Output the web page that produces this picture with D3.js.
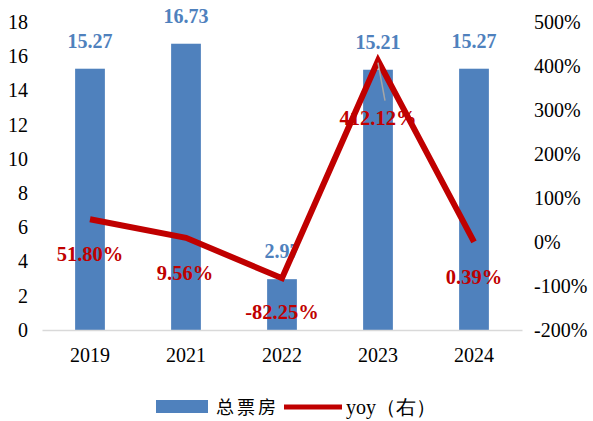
<!DOCTYPE html>
<html><head><meta charset="utf-8">
<script src="https://cdn.jsdelivr.net/npm/d3@7"></script>
<style>body{margin:0;background:#fff}svg{display:block}</style>
</head><body><svg id="c" width="593" height="421"></svg>
<script>
const years = ["2019","2021","2022","2023","2024"];
const boxOffice = [15.27, 16.73, 2.97, 15.21, 15.27];
const yoy = [51.80, 9.56, -82.25, 412.12, 0.39];
const yoyLabels = ["51.80%","9.56%","-82.25%","412.12%","0.39%"];
const leftTicks = [0,2,4,6,8,10,12,14,16,18];
const rightTicks = [-200,-100,0,100,200,300,400,500];

const svg = d3.select("#c");
const serif = "'Liberation Serif','Times New Roman',serif";
const x = d3.scaleBand().domain(years).range([42,522]).paddingInner(0.69).paddingOuter(0.345);
const yL = d3.scaleLinear().domain([0,18]).range([330,22]);
const yR = d3.scaleLinear().domain([-200,500]).range([330,22]);

// left axis
const la = svg.append("g").attr("transform","translate(38,0)")
  .call(d3.axisLeft(yL).tickValues(leftTicks).tickSize(0).tickPadding(0));
la.select(".domain").remove();
la.selectAll("text").attr("font-family",serif).attr("font-size",20).attr("fill","#000").attr("x",-10);
// right axis
const ra = svg.append("g").attr("transform","translate(534,0)")
  .call(d3.axisRight(yR).tickValues(rightTicks).tickSize(0).tickPadding(0).tickFormat(d=>d+"%"));
ra.select(".domain").remove();
ra.selectAll("text").attr("font-family",serif).attr("font-size",20).attr("fill","#000");

// bars
svg.selectAll("rect.bar").data(years).enter().append("rect")
  .attr("x",d=>x(d)).attr("width",x.bandwidth())
  .attr("y",(d,i)=>yL(boxOffice[i])).attr("height",(d,i)=>yL(0)-yL(boxOffice[i]))
  .attr("fill","#4f81bd");

// x axis
const xa = svg.append("g").attr("transform","translate(0,330)")
  .call(d3.axisBottom(x).tickSize(0).tickPadding(0));
xa.select(".domain").attr("stroke","#d9d9d9").attr("stroke-width",1.5);
xa.selectAll("text").attr("font-family",serif).attr("font-size",20).attr("fill","#000").attr("dy","1.6em");

// bar labels
svg.selectAll("text.bl").data(years).enter().append("text")
  .attr("x",d=>x(d)+x.bandwidth()/2).attr("y",(d,i)=>yL(boxOffice[i])-21)
  .attr("text-anchor","middle").attr("font-family",serif).attr("font-weight","bold")
  .attr("font-size",20).attr("fill","#4f81bd").text((d,i)=>boxOffice[i].toFixed(2));

// line
const cx = d=>x(d)+x.bandwidth()/2;
svg.append("path").datum(years)
  .attr("d",d3.line().x(cx).y((d,i)=>yR(yoy[i])))
  .attr("fill","none").attr("stroke","#c00000").attr("stroke-width",6).attr("stroke-linejoin","miter");

// leader line for 2023
const i23 = 3;
svg.append("line").attr("x1",cx(years[i23])).attr("y1",yR(yoy[i23])+2)
  .attr("x2",cx(years[i23])+7).attr("y2",yR(yoy[i23])+40)
  .attr("stroke","#a6a6a6").attr("stroke-width",1.5);

// yoy labels
const off = [42,42,41,64,42];
svg.selectAll("text.yl").data(years).enter().append("text")
  .attr("x",(d,i)=>cx(d)+(i==1?-1:0)).attr("y",(d,i)=>yR(yoy[i])+off[i])
  .attr("text-anchor","middle").attr("font-family",serif).attr("font-weight","bold")
  .attr("font-size",20.5).attr("fill","#c00000").text((d,i)=>yoyLabels[i]);

// legend
const lg = svg.append("g");
lg.append("rect").attr("x",156).attr("y",400).attr("width",52).attr("height",13).attr("fill","#4f81bd");
lg.append("text").attr("x",216).attr("y",414).attr("font-family","'Noto Sans CJK SC',serif").attr("font-size",18).attr("letter-spacing",3).attr("fill","#000").text("总票房");
lg.append("line").attr("x1",284).attr("x2",342).attr("y1",407).attr("y2",407).attr("stroke","#c00000").attr("stroke-width",5);
lg.append("text").attr("x",346).attr("y",414).attr("font-family",serif).attr("font-size",20).attr("fill","#000").text("yoy（右）");
</script></body></html>
